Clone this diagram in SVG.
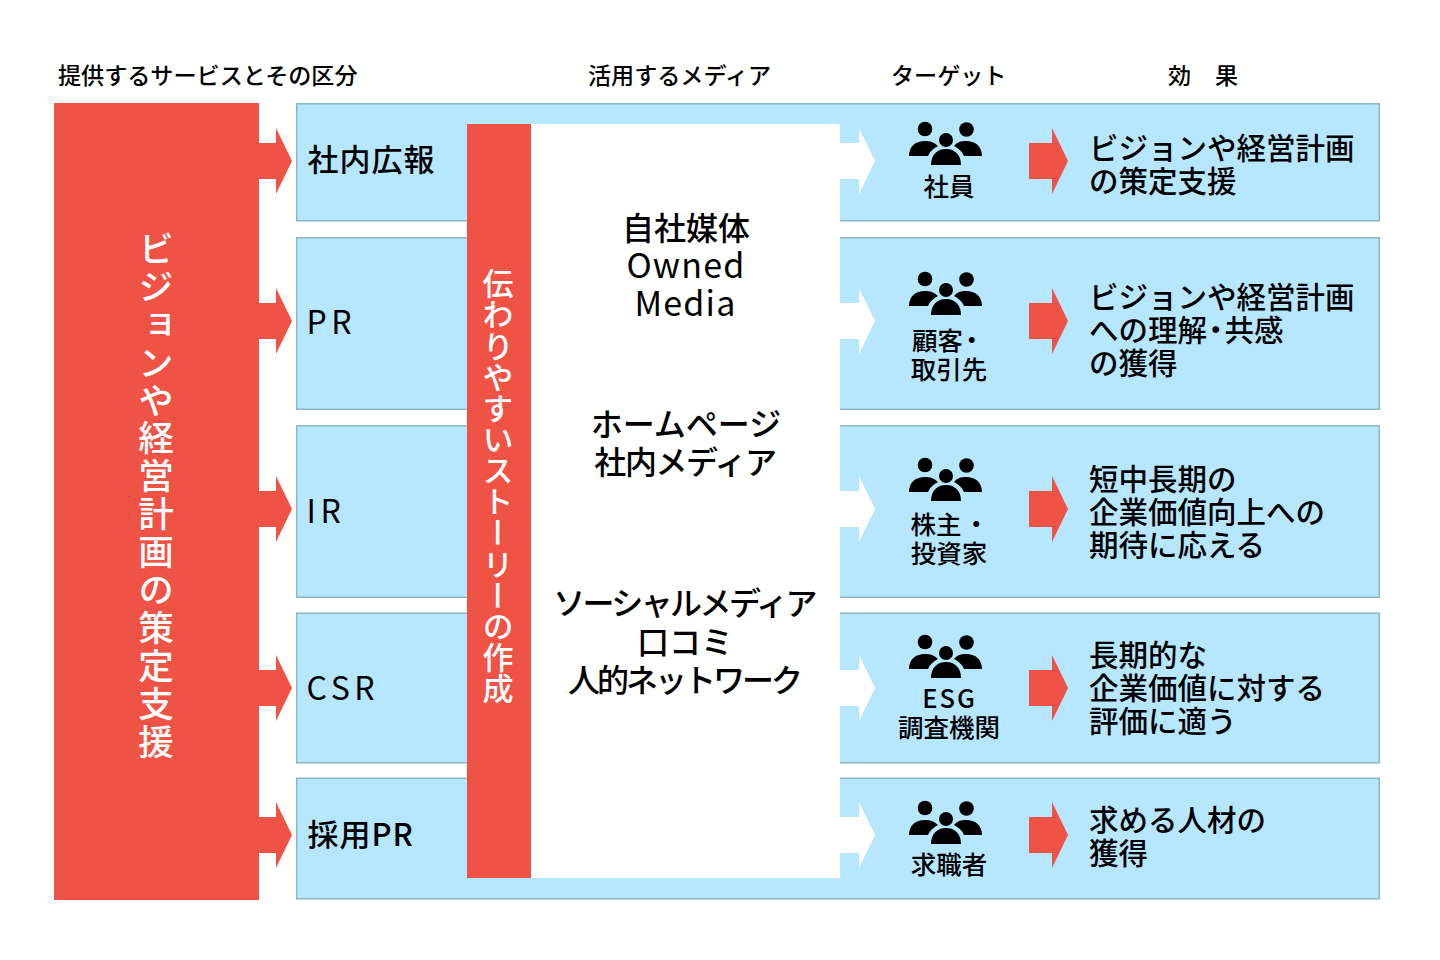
<svg xmlns="http://www.w3.org/2000/svg" width="1440" height="960" viewBox="0 0 1440 960">
<style>
text{font-family:"Noto Sans CJK JP","Noto Sans",sans-serif;fill:#000;font-weight:400}
.box{fill:#b7e6ff;stroke:#8db6c7;stroke-width:1.5}
.red{fill:#ef5345}
.wht{fill:#fff}
.h{font-size:23.1px;font-weight:500}
.s{font-size:31px;font-weight:500;letter-spacing:1px}
.l{font-size:32px;font-weight:400;letter-spacing:4.6px}
.m{font-size:32px;text-anchor:middle;font-weight:500}
.o{font-size:34px;font-weight:400;letter-spacing:1.2px}
.t{font-size:25.5px;text-anchor:middle;font-weight:500}
.t0{font-size:25.5px;font-weight:500}
.e{font-size:29.5px;font-weight:500}
.v{fill:#fff;font-weight:500;writing-mode:vertical-rl;text-anchor:middle}
</style>
<defs>
<path id="arrow" d="M0-18H17V-33L33 0 17 33V18H0Z"/>
<g id="people">
<circle cx="-21" cy="-13" r="7.3"/><circle cx="20.5" cy="-12.5" r="7.3"/><circle cx="0" cy="-2" r="7"/>
<path d="M-37 14C-37 4-30-1-21-1-16-1-12 0-8 4-12 6-16 9-18 14Z"/>
<path d="M36 14C36 4 29-1 20-1 15-1 11 0 8 4 12 6 16 9 18 14Z"/>
<path d="M-15 23C-15 13-9 7 0 7S15 13 15 23Z"/>
</g>
</defs>
<g id="headers">
<text class="h" x="58" y="84">提供するサービスとその区分</text>
<text class="h" x="588" y="84">活用するメディア</text>
<text class="h" x="891" y="84">ターゲット</text>
<text class="h" x="1168" y="84">効</text><text class="h" x="1215" y="84">果</text>
</g>
<g id="row-1"><rect class="box" x="296.75" y="103.75" width="1082.5" height="117"/><text class="s" x="307.5" y="171">社内広報</text></g>
<g id="row-2"><rect class="box" x="296.75" y="237.75" width="1082.5" height="171.5"/><text class="l" x="306.5" y="334">PR</text></g>
<g id="row-3"><rect class="box" x="296.75" y="425.75" width="1082.5" height="171.5"/><text class="l" x="306.5" y="523">IR</text></g>
<g id="row-4"><rect class="box" x="296.75" y="613.25" width="1082.5" height="149.5"/><text class="l" x="306.5" y="700">CSR</text></g>
<g id="row-5"><rect class="box" x="296.75" y="778.25" width="1082.5" height="120.5"/><text class="s" x="307.5" y="846">採用PR</text></g>
<g id="vision"><rect class="red" x="54" y="103" width="205" height="797"/></g>
<g id="media-panel">
<rect class="wht" x="531" y="124" width="309" height="754"/>
<text class="m" x="686" y="240">自社媒体</text><text class="m o" x="686" y="278">Owned</text><text class="m o" x="685.5" y="316">Media</text>
<text class="m" x="686" y="436">ホームページ</text><text class="m" style="letter-spacing:-1.4px" x="685" y="474">社内メディア</text>
<text class="m" style="letter-spacing:-2.6px" x="684" y="615">ソーシャルメディア</text><text class="m" x="685" y="654">口コミ</text><text class="m" style="letter-spacing:-3px" x="684" y="692">人的ネットワーク</text>
</g>
<g id="story"><rect class="red" x="467" y="124" width="64" height="754"/>
<text class="v" x="498" y="486" style="font-size:31px;letter-spacing:.15px">伝わりやすいストーリーの作成</text></g>
<g id="vision-label"><text class="v" x="156" y="496" style="font-size:35.5px;letter-spacing:2.4px">ビジョンや経営計画の策定支援</text></g>
<g id="connectors">
<use class="red" href="#arrow" x="259" y="161"/><use class="red" href="#arrow" x="259" y="321"/><use class="red" href="#arrow" x="259" y="509"/><use class="red" href="#arrow" x="259" y="688"/><use class="red" href="#arrow" x="259" y="835"/>
<use class="wht" href="#arrow" x="842" y="161"/><use class="wht" href="#arrow" x="842" y="321"/><use class="wht" href="#arrow" x="842" y="509"/><use class="wht" href="#arrow" x="842" y="688"/><use class="wht" href="#arrow" x="842" y="835"/>
<rect class="wht" x="839" y="143" width="5" height="36"/><rect class="wht" x="839" y="303" width="5" height="36"/><rect class="wht" x="839" y="491" width="5" height="36"/><rect class="wht" x="839" y="670" width="5" height="36"/><rect class="wht" x="839" y="817" width="5" height="36"/>
<use class="red" href="#arrow" x="1035" y="161"/><use class="red" href="#arrow" x="1035" y="321"/><use class="red" href="#arrow" x="1035" y="509"/><use class="red" href="#arrow" x="1035" y="688"/><use class="red" href="#arrow" x="1035" y="835"/>
<rect class="red" x="1029" y="143" width="8" height="36"/><rect class="red" x="1029" y="303" width="8" height="36"/><rect class="red" x="1029" y="491" width="8" height="36"/><rect class="red" x="1029" y="670" width="8" height="36"/><rect class="red" x="1029" y="817" width="8" height="36"/>
</g>
<g id="target-1"><use href="#people" x="946" y="142"/><text class="t" x="949" y="196">社員</text></g>
<g id="target-2"><use href="#people" x="946" y="292"/><text class="t0" x="912" y="350">顧客<tspan dx="-4">・</tspan></text><text class="t" x="949" y="379">取引先</text></g>
<g id="target-3"><use href="#people" x="946" y="478"/><text class="t0" x="910.5" y="534">株主<tspan dx="2">・</tspan></text><text class="t" x="949" y="563">投資家</text></g>
<g id="target-4"><use href="#people" x="946" y="655"/><text class="t" style="letter-spacing:2px" x="949.5" y="708">ESG</text><text class="t" x="949" y="737">調査機関</text></g>
<g id="target-5"><use href="#people" x="946" y="821"/><text class="t" x="949" y="874">求職者</text></g>
<g id="effect-1"><text class="e" x="1089" y="159">ビジョンや経営計画</text><text class="e" x="1089" y="192">の策定支援</text></g>
<g id="effect-2"><text class="e" x="1089" y="308">ビジョンや経営計画</text><text class="e" x="1089" y="341">への理解<tspan dx="-6">・</tspan><tspan dx="-6">共感</tspan></text><text class="e" x="1089" y="374">の獲得</text></g>
<g id="effect-3"><text class="e" x="1089" y="490">短中長期の</text><text class="e" x="1089" y="523">企業価値向上への</text><text class="e" x="1089" y="556">期待に応える</text></g>
<g id="effect-4"><text class="e" x="1089" y="666">長期的な</text><text class="e" x="1089" y="699">企業価値に対する</text><text class="e" x="1089" y="732">評価に適う</text></g>
<g id="effect-5"><text class="e" x="1089" y="831">求める人材の</text><text class="e" x="1089" y="864">獲得</text></g>
</svg>
